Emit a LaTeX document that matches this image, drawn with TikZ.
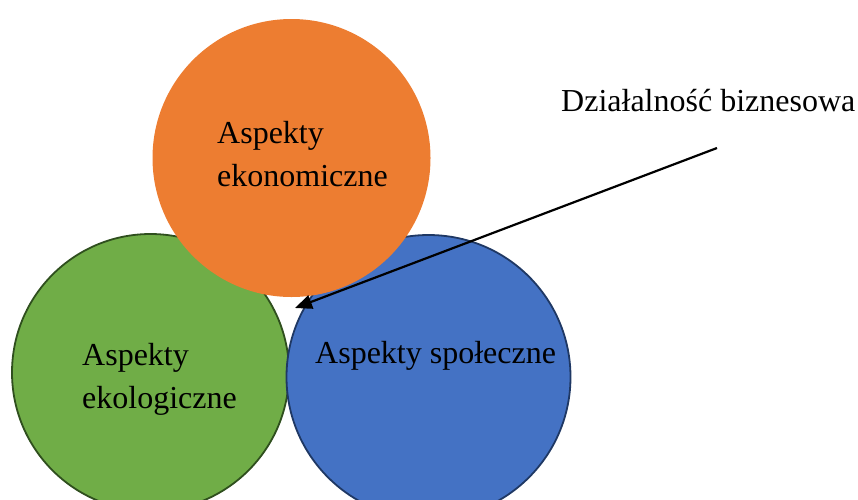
\documentclass[tikz,border=0pt]{standalone}
\usepackage{fontspec}
\setmainfont{Liberation Serif}
\usetikzlibrary{arrows.meta}
\definecolor{orangeF}{HTML}{ED7D31}
\definecolor{greenF}{HTML}{70AD47}
\definecolor{greenD}{HTML}{2F4F1E}
\definecolor{blueF}{HTML}{4472C4}
\definecolor{blueD}{HTML}{1F3864}
\tikzset{
  disc/.style={circle, inner sep=0pt, minimum size=#1},
  lbl/.style={font=\fontsize{32}{43}\selectfont, align=left, inner sep=0pt, anchor=base west},
}
\begin{document}
\begin{tikzpicture}[x=1pt,y=-1pt]
\useasboundingbox (0,0) rectangle (858,499);
\node[disc=277pt, fill=greenF, draw=greenD, line width=1.8pt] (green) at (150.5,372.5) {};
\node[disc=284pt, fill=blueF, draw=blueD, line width=1.8pt] (blue) at (428.5,377) {};
\node[disc=278pt, fill=orangeF] (orange) at (291.5,158) {};
\node[lbl] (eko) at (217,186) {Aspekty\\ekonomiczne};
\node[lbl] (ekol) at (82,408) {Aspekty\\ekologiczne};
\node[lbl] (spol) at (315,363) {Aspekty społeczne};
\node[lbl] (biz) at (561,111) {Działalność biznesowa};
\coordinate (from) at (717,148);
\coordinate (tip) at (295,308);
\draw[line width=2.2pt, -{Triangle[length=17pt,width=14pt]}] (from) -- (tip);
\end{tikzpicture}
\end{document}
